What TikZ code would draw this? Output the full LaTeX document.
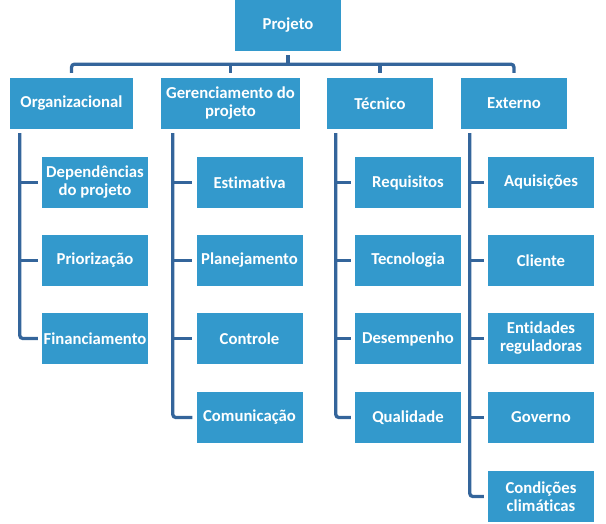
\documentclass[tikz,border=0pt]{standalone}
\usepackage{fontspec}
\setmainfont{Carlito}[Ligatures={NoCommon}]
\begin{document}
\begin{tikzpicture}[x=1pt,y=-1pt,
  box/.style={fill=boxblue, draw=none, text=white, font=\bfseries\fontsize{16.7}{18}\selectfont,
    align=center, inner sep=0pt, minimum height=51pt, minimum width=106pt},
  conn/.style={draw=linkblue, line width=3.3pt, rounded corners=3pt}]
\definecolor{boxblue}{RGB}{51,153,204}
\definecolor{linkblue}{RGB}{52,101,155}
\useasboundingbox (0,0) rectangle (606,524);
% top
\node[box] (p) at (288,25.5) {Projeto};
% level 2
\node[box, minimum width=123pt] (org) at (71.5,103.5) {Organizacional};
\node[box, minimum width=139pt] (ger) at (230.5,103.5) {Gerenciamento do\\projeto};
\node[box] (tec) at (380,103.5) {Técnico};
\node[box] (ext) at (514,103.5) {Externo};
% level 3
\node[box] (o1) at (95,182.5) {Dependências\\do projeto};
\node[box] (o2) at (95,260.5) {Priorização};
\node[box] (o3) at (95,338.5) {Financiamento};
\node[box] (g1) at (249.5,182.5) {Estimativa};
\node[box] (g2) at (249.5,260.5) {Planejamento};
\node[box] (g3) at (249.5,338.5) {Controle};
\node[box] (g4) at (249.5,417.5) {Comunicação};
\node[box] (t1) at (408,182.5) {Requisitos};
\node[box] (t2) at (408,260.5) {Tecnologia};
\node[box] (t3) at (408,338.5) {Desempenho};
\node[box] (t4) at (408,417.5) {Qualidade};
\node[box] (e1) at (541,182.5) {Aquisições};
\node[box] (e2) at (541,260.5) {Cliente};
\node[box] (e3) at (541,338.5) {Entidades\\reguladoras};
\node[box] (e4) at (541,417.5) {Governo};
\node[box] (e5) at (541,496.5) {Condições\\climáticas};
% bus
\coordinate (bus) at ([yshift=-13pt]p.south);
\draw[conn] ([yshift=-4pt]p.south) -- (bus);
\draw[conn] ([yshift=5pt]org.north) |- (bus) -| ([yshift=5pt]ext.north);
\draw[conn] ([yshift=5pt]ger.north) -- (ger.north |- bus);
\draw[conn] ([yshift=5pt]tec.north) -- (tec.north |- bus);
% column spines
\coordinate (vo) at ([xshift=10pt,yshift=-4pt]org.south west);
\coordinate (vg) at ([xshift=12pt,yshift=-4pt]ger.south west);
\coordinate (vt) at ([xshift=9pt,yshift=-4pt]tec.south west);
\coordinate (ve) at ([xshift=9pt,yshift=-4pt]ext.south west);
\draw[conn] (vo) |- ([xshift=-4pt]o3.west);
\draw[conn] (vo |- o1.west) -- ([xshift=-4pt]o1.west);
\draw[conn] (vo |- o2.west) -- ([xshift=-4pt]o2.west);
\draw[conn] (vg) |- ([xshift=-4pt]g4.west);
\draw[conn] (vg |- g1.west) -- ([xshift=-4pt]g1.west);
\draw[conn] (vg |- g2.west) -- ([xshift=-4pt]g2.west);
\draw[conn] (vg |- g3.west) -- ([xshift=-4pt]g3.west);
\draw[conn] (vt) |- ([xshift=-4pt]t4.west);
\draw[conn] (vt |- t1.west) -- ([xshift=-4pt]t1.west);
\draw[conn] (vt |- t2.west) -- ([xshift=-4pt]t2.west);
\draw[conn] (vt |- t3.west) -- ([xshift=-4pt]t3.west);
\draw[conn] (ve) |- ([xshift=-4pt]e5.west);
\draw[conn] (ve |- e1.west) -- ([xshift=-4pt]e1.west);
\draw[conn] (ve |- e2.west) -- ([xshift=-4pt]e2.west);
\draw[conn] (ve |- e3.west) -- ([xshift=-4pt]e3.west);
\draw[conn] (ve |- e4.west) -- ([xshift=-4pt]e4.west);
\end{tikzpicture}
\end{document}
